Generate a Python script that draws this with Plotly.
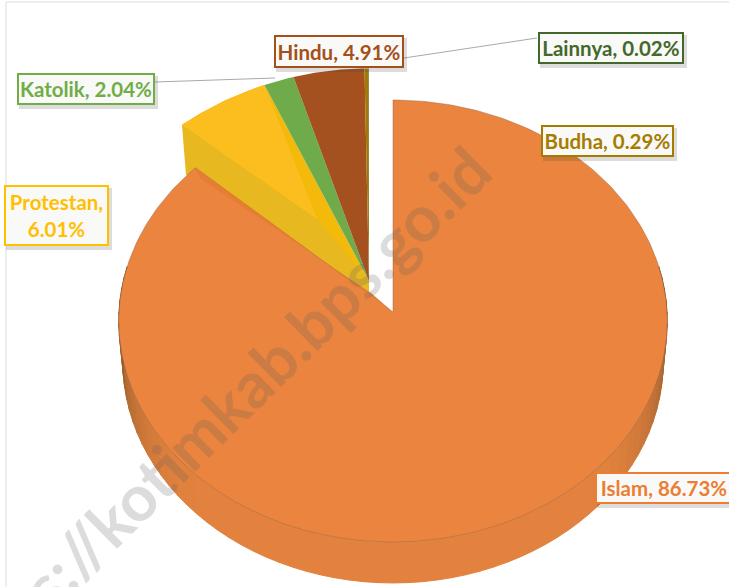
import math
import plotly.graph_objects as go

categories = ["Islam", "Protestan", "Katolik", "Hindu", "Budha", "Lainnya"]
values = [86.73, 6.01, 2.04, 4.91, 0.29, 0.02]
face_colors = ["#EA843E", "#F3BA0C", "#6FAB4A", "#A4511F", "#A07A08", "#43682B"]
text_colors = ["#ED7D31", "#FFC000", "#70AD47", "#A5501A", "#A67C00", "#43682B"]
label_texts = ["Islam, 86.73%", "Protestan,<br>6.01%", "Katolik, 2.04%",
               "Hindu, 4.91%", "Budha, 0.29%", "Lainnya, 0.02%"]
# label box: left, top, right, bottom on the page
label_boxes = [(595, 472, 733, 504), (4, 185, 109, 246), (17, 73, 155, 105),
               (274, 35, 404, 68), (541, 125, 674, 157), (538, 32, 684, 64)]

W, H = 729, 587
RX, RY, K = 274.0, 220.6, 0.0407
GROUP_VIEW = dict(rx=312.0, ry=287.0, k=0.35)
MAIN_APEX = (393.0, 312.0)
GROUP_APEX = (369.0, 281.0)
DEPTH = 41.0


def project(apex, deg, r=1.0, rx=RX, ry=RY, k=K):
    t = math.radians(deg)
    u, v = r * math.sin(t), r * math.cos(t)
    s = 1 / (1 + k * v)
    return apex[0] + rx * u * s, apex[1] - ry * v * s


def arc(apex, a, b, step=1.0, **kw):
    n = max(2, int(abs(b - a) / step) + 1)
    return [project(apex, a + (b - a) * i / (n - 1), **kw) for i in range(n)]


def poly(fig, pts, color, name, line=None, lw=0):
    fig.add_trace(go.Scatter(x=[p[0] for p in pts] + [pts[0][0]],
                             y=[p[1] for p in pts] + [pts[0][1]],
                             mode="lines", fill="toself", fillcolor=color,
                             line=dict(color=line or "rgba(0,0,0,0)", width=lw), name=name,
                             hoverinfo="skip", showlegend=False))


total = sum(values)
spans, acc = [], 0.0
for v in values:
    spans.append((acc, acc + v / total * 360))
    acc += v / total * 360

fig = go.Figure()

# exploded group: Protestan wall, wedges
p0, p1 = spans[1]
rim0 = project(GROUP_APEX, p0, **GROUP_VIEW)
poly(fig, arc(GROUP_APEX, p0, p1, **GROUP_VIEW) + [GROUP_APEX], face_colors[1], categories[1])
tip = (GROUP_APEX[0] - 52, GROUP_APEX[1] - 62)
wall = [rim0, (rim0[0] + 4, rim0[1] + 50), (GROUP_APEX[0], GROUP_APEX[1] + 13), GROUP_APEX, tip]
poly(fig, wall, "#E8B820", categories[1] + " wall")
poly(fig, arc(GROUP_APEX, p0, p1, **GROUP_VIEW) + [tip], "#FBBE1E", categories[1] + " face")
for i in (2, 3, 4, 5):
    a, b = spans[i]
    poly(fig, arc(GROUP_APEX, a, b, 0.2, **GROUP_VIEW) + [GROUP_APEX], face_colors[i], categories[i])

# Islam side wall: shaded strips
a0, a1 = 78.0, 282.0
N = 68
for i in range(N):
    a = a0 + (a1 - a0) * i / N
    b = a0 + (a1 - a0) * (i + 1) / N
    top = arc(MAIN_APEX, a, b, 1.0)
    bot = [(MAIN_APEX[0] + (x - MAIN_APEX[0]) * 0.985, y + DEPTH) for x, y in top]
    f = min(1.0, abs((a + b) / 2 - 180) / 102)
    m = max(0.0, (f - 0.45) / 0.55) ** 1.6
    col = "rgb(%d,%d,%d)" % (226 - 126 * m, 130 - 60 * m, 62 - 30 * m)
    poly(fig, top + bot[::-1], col, "Islam wall", line=col, lw=1)

# Islam face
a, b = spans[0]
poly(fig, [MAIN_APEX] + arc(MAIN_APEX, a, b) + [MAIN_APEX], face_colors[0], categories[0],
     line="rgba(150,100,70,0.45)", lw=1)
# Islam cut wall band
edge = [project(MAIN_APEX, b, r) for r in (1.0, 0.0)]
band = [edge[0], edge[1], (edge[1][0] - 22, edge[1][1] - 19), (edge[0][0] + 4, edge[0][1] + 10)]
poly(fig, band, "#E67D33", "Islam cut")

shapes = [
    dict(type="line", x0=6, y0=2, x1=6, y1=H, line=dict(color="#DDDDDD", width=1), layer="below"),
    dict(type="line", x0=6, y0=2, x1=W, y1=2, line=dict(color="#DDDDDD", width=1), layer="below"),
    dict(type="line", x0=155, y0=82, x1=275, y1=78, line=dict(color="#A9A9A9", width=1)),
    dict(type="line", x0=404, y0=58, x1=537, y1=38, line=dict(color="#A9A9A9", width=1)),
]
annotations = [dict(text="<b>https://kotimkab.bps.go.id</b>", x=214, y=418, xref="x", yref="y",
                    showarrow=False, textangle=-44.6,
                    font=dict(family="Lato", size=64, color="rgba(95,95,95,0.22)"))]
for txt, box, col in zip(label_texts, label_boxes, text_colors):
    l, t, r, bt = box
    shapes.append(dict(type="rect", x0=l + 2, y0=t + 3, x1=r + 3, y1=bt + 4,
                       fillcolor="rgba(60,60,60,0.18)", line=dict(width=0), layer="above"))
    annotations.append(dict(text="<b>%s</b>" % txt, x=(l + r) / 2, y=(t + bt) / 2,
                            xref="x", yref="y", showarrow=False,
                            width=r - l - 4, height=bt - t - 4, align="center", valign="middle",
                            bgcolor="#F9F9F7", bordercolor=col, borderwidth=2, borderpad=0,
                            font=dict(family="Lato", size=20.5, color=col)))

fig.update_layout(
    width=W, height=H, margin=dict(l=0, r=0, t=0, b=0),
    paper_bgcolor="white", plot_bgcolor="white", showlegend=False,
    xaxis=dict(range=[0, W], visible=False, fixedrange=True),
    yaxis=dict(range=[H, 0], visible=False, fixedrange=True),
    shapes=shapes, annotations=annotations,
)
fig.write_html("out.html", config=dict(displayModeBar=False),
               post_script="document.body.style.margin='0';document.body.style.overflow='hidden';")
